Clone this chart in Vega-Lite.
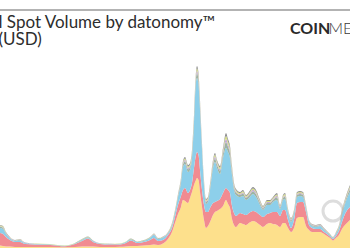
{
  "$schema": "https://vega.github.io/schema/vega-lite/v6.json",
  "width": 350,
  "height": 238,
  "autosize": {"type": "none"},
  "padding": {"top": 10, "bottom": 2, "left": 0, "right": 0},
  "background": "white",
  "config": {
    "view": {"stroke": null},
    "font": "Lato",
    "axisY": {"domain": false, "ticks": false, "labels": false, "title": null, "grid": true, "gridColor": "#eeeeee", "gridWidth": 1}
  },
  "title": {
    "text": ["l Spot Volume by datonomy™", "(USD)"],
    "anchor": "start",
    "frame": "group",
    "orient": "top",
    "offset": -40,
    "dx": -1.5,
    "font": "Lato",
    "fontSize": 17,
    "fontWeight": "normal",
    "color": "#2d2d2d",
    "lineHeight": 17.5
  },
  "datasets": {
    "ranks": [
      {"sector": "Currencies", "rank": 1},
      {"sector": "Platforms", "rank": 2},
      {"sector": "Stablecoins", "rank": 3},
      {"sector": "DeFi", "rank": 4},
      {"sector": "Metaverse", "rank": 5},
      {"sector": "Computing", "rank": 6},
      {"sector": "Other", "rank": 7}
    ],
    "vol": [
      {"x":0,"Currencies":1.91,"Platforms":9.54,"Stablecoins":3.82,"DeFi":0.92,"Metaverse":0.46,"Computing":0.46,"Other":0.46},
      {"x":3,"Currencies":1.53,"Platforms":9.16,"Stablecoins":3.82,"DeFi":0.92,"Metaverse":0.46,"Computing":0.46,"Other":0.46},
      {"x":6,"Currencies":1.15,"Platforms":7.25,"Stablecoins":2.29,"DeFi":0.61,"Metaverse":0.31,"Computing":0.31,"Other":0.31},
      {"x":10,"Currencies":1.15,"Platforms":4.96,"Stablecoins":1.15,"DeFi":0.46,"Metaverse":0.23,"Computing":0.23,"Other":0.23},
      {"x":15,"Currencies":0.76,"Platforms":3.82,"Stablecoins":0.76,"DeFi":0.3,"Metaverse":0.15,"Computing":0.15,"Other":0.15},
      {"x":20,"Currencies":0.76,"Platforms":3.82,"Stablecoins":1.15,"DeFi":0.46,"Metaverse":0.23,"Computing":0.23,"Other":0.23},
      {"x":25,"Currencies":0.76,"Platforms":2.29,"Stablecoins":0.53,"DeFi":0.24,"Metaverse":0.12,"Computing":0.12,"Other":0.12},
      {"x":35,"Currencies":0.76,"Platforms":1.91,"Stablecoins":0.38,"DeFi":0.15,"Metaverse":0.08,"Computing":0.08,"Other":0.08},
      {"x":50,"Currencies":0.76,"Platforms":1.53,"Stablecoins":0.38,"DeFi":0.15,"Metaverse":0.08,"Computing":0.08,"Other":0.08},
      {"x":65,"Currencies":0.53,"Platforms":0.76,"Stablecoins":0.23,"DeFi":0.15,"Metaverse":0.08,"Computing":0.08,"Other":0.08},
      {"x":75,"Currencies":0.76,"Platforms":2.29,"Stablecoins":0.38,"DeFi":0.15,"Metaverse":0.08,"Computing":0.08,"Other":0.08},
      {"x":82,"Currencies":1.15,"Platforms":4.2,"Stablecoins":0.76,"DeFi":0.3,"Metaverse":0.15,"Computing":0.15,"Other":0.15},
      {"x":88,"Currencies":1.15,"Platforms":6.11,"Stablecoins":0.76,"DeFi":0.3,"Metaverse":0.15,"Computing":0.15,"Other":0.15},
      {"x":93,"Currencies":1.15,"Platforms":3.44,"Stablecoins":0.53,"DeFi":0.24,"Metaverse":0.12,"Computing":0.12,"Other":0.12},
      {"x":100,"Currencies":0.76,"Platforms":2.29,"Stablecoins":0.38,"DeFi":0.15,"Metaverse":0.08,"Computing":0.08,"Other":0.08},
      {"x":110,"Currencies":0.76,"Platforms":1.83,"Stablecoins":0.31,"DeFi":0.12,"Metaverse":0.06,"Computing":0.06,"Other":0.06},
      {"x":120,"Currencies":0.92,"Platforms":1.76,"Stablecoins":0.38,"DeFi":0.15,"Metaverse":0.08,"Computing":0.08,"Other":0.08},
      {"x":126,"Currencies":1.15,"Platforms":2.67,"Stablecoins":0.76,"DeFi":0.15,"Metaverse":0.08,"Computing":0.08,"Other":0.08},
      {"x":131,"Currencies":1.53,"Platforms":4.2,"Stablecoins":0.76,"DeFi":0.3,"Metaverse":0.15,"Computing":0.15,"Other":0.15},
      {"x":137,"Currencies":1.53,"Platforms":2.29,"Stablecoins":0.76,"DeFi":0.15,"Metaverse":0.08,"Computing":0.08,"Other":0.08},
      {"x":144,"Currencies":1.91,"Platforms":2.67,"Stablecoins":0.76,"DeFi":0.3,"Metaverse":0.15,"Computing":0.15,"Other":0.15},
      {"x":150,"Currencies":2.29,"Platforms":3.82,"Stablecoins":1.53,"DeFi":0.3,"Metaverse":0.15,"Computing":0.15,"Other":0.15},
      {"x":154,"Currencies":2.67,"Platforms":4.96,"Stablecoins":2.29,"DeFi":0.46,"Metaverse":0.23,"Computing":0.23,"Other":0.23},
      {"x":158,"Currencies":2.29,"Platforms":3.05,"Stablecoins":1.53,"DeFi":0.3,"Metaverse":0.15,"Computing":0.15,"Other":0.15},
      {"x":163,"Currencies":3.44,"Platforms":2.67,"Stablecoins":1.91,"DeFi":0.3,"Metaverse":0.15,"Computing":0.15,"Other":0.15},
      {"x":168,"Currencies":6.87,"Platforms":3.05,"Stablecoins":1.15,"DeFi":0.46,"Metaverse":0.23,"Computing":0.23,"Other":0.23},
      {"x":172,"Currencies":12.21,"Platforms":3.05,"Stablecoins":1.53,"DeFi":0.92,"Metaverse":0.46,"Computing":0.46,"Other":0.46},
      {"x":175,"Currencies":19.09,"Platforms":4.58,"Stablecoins":3.05,"DeFi":0.92,"Metaverse":0.46,"Computing":0.46,"Other":0.46},
      {"x":178,"Currencies":25.96,"Platforms":6.87,"Stablecoins":6.11,"DeFi":0.92,"Metaverse":0.46,"Computing":0.46,"Other":0.46},
      {"x":181,"Currencies":31.3,"Platforms":8.4,"Stablecoins":9.92,"DeFi":1.53,"Metaverse":0.76,"Computing":0.76,"Other":0.76},
      {"x":183,"Currencies":36.64,"Platforms":7.63,"Stablecoins":17.56,"DeFi":1.83,"Metaverse":0.92,"Computing":0.92,"Other":0.92},
      {"x":185,"Currencies":35.88,"Platforms":9.92,"Stablecoins":18.32,"DeFi":2.14,"Metaverse":1.07,"Computing":1.07,"Other":1.07},
      {"x":188,"Currencies":34.35,"Platforms":7.63,"Stablecoins":16.03,"DeFi":2.14,"Metaverse":1.07,"Computing":1.07,"Other":1.07},
      {"x":190,"Currencies":38.17,"Platforms":6.11,"Stablecoins":15.27,"DeFi":2.14,"Metaverse":1.07,"Computing":1.07,"Other":1.07},
      {"x":192,"Currencies":42.75,"Platforms":6.87,"Stablecoins":19.09,"DeFi":2.44,"Metaverse":1.22,"Computing":1.22,"Other":1.22},
      {"x":194,"Currencies":48.09,"Platforms":12.98,"Stablecoins":32.83,"DeFi":3.05,"Metaverse":1.53,"Computing":1.53,"Other":1.53},
      {"x":196,"Currencies":51.91,"Platforms":19.09,"Stablecoins":55.73,"DeFi":3.05,"Metaverse":1.53,"Computing":1.53,"Other":1.53},
      {"x":197,"Currencies":53.44,"Platforms":19.85,"Stablecoins":56.49,"DeFi":3.66,"Metaverse":1.83,"Computing":1.83,"Other":1.83},
      {"x":198.5,"Currencies":51.91,"Platforms":19.09,"Stablecoins":53.44,"DeFi":3.66,"Metaverse":1.83,"Computing":1.83,"Other":1.83},
      {"x":200,"Currencies":42.75,"Platforms":16.79,"Stablecoins":45.8,"DeFi":3.05,"Metaverse":1.53,"Computing":1.53,"Other":1.53},
      {"x":202,"Currencies":31.3,"Platforms":12.98,"Stablecoins":30.54,"DeFi":2.14,"Metaverse":1.07,"Computing":1.07,"Other":1.07},
      {"x":204,"Currencies":21.38,"Platforms":11.45,"Stablecoins":14.5,"DeFi":1.83,"Metaverse":0.92,"Computing":0.92,"Other":0.92},
      {"x":206,"Currencies":15.27,"Platforms":12.21,"Stablecoins":6.11,"DeFi":1.53,"Metaverse":0.76,"Computing":0.76,"Other":0.76},
      {"x":208,"Currencies":16.79,"Platforms":10.69,"Stablecoins":7.63,"DeFi":1.53,"Metaverse":0.76,"Computing":0.76,"Other":0.76},
      {"x":210,"Currencies":19.85,"Platforms":10.69,"Stablecoins":13.74,"DeFi":1.83,"Metaverse":0.92,"Computing":0.92,"Other":0.92},
      {"x":213,"Currencies":25.19,"Platforms":9.16,"Stablecoins":26.72,"DeFi":2.44,"Metaverse":1.22,"Computing":1.22,"Other":1.22},
      {"x":215,"Currencies":27.48,"Platforms":7.63,"Stablecoins":30.54,"DeFi":2.75,"Metaverse":1.37,"Computing":1.37,"Other":1.37},
      {"x":217,"Currencies":28.25,"Platforms":7.63,"Stablecoins":25.19,"DeFi":2.44,"Metaverse":1.22,"Computing":1.22,"Other":1.22},
      {"x":220,"Currencies":29.77,"Platforms":7.63,"Stablecoins":19.09,"DeFi":2.44,"Metaverse":1.22,"Computing":1.22,"Other":1.22},
      {"x":223,"Currencies":32.06,"Platforms":9.92,"Stablecoins":26.72,"DeFi":3.05,"Metaverse":1.53,"Computing":1.53,"Other":1.53},
      {"x":226,"Currencies":36.64,"Platforms":9.16,"Stablecoins":30.54,"DeFi":4.58,"Metaverse":2.29,"Computing":2.29,"Other":2.29},
      {"x":228,"Currencies":33.59,"Platforms":10.69,"Stablecoins":29.01,"DeFi":3.97,"Metaverse":1.98,"Computing":1.98,"Other":1.98},
      {"x":230,"Currencies":30.54,"Platforms":11.45,"Stablecoins":26.72,"DeFi":3.66,"Metaverse":1.83,"Computing":1.83,"Other":1.83},
      {"x":232,"Currencies":22.14,"Platforms":9.92,"Stablecoins":23.67,"DeFi":2.75,"Metaverse":1.37,"Computing":1.37,"Other":1.37},
      {"x":234,"Currencies":17.56,"Platforms":9.16,"Stablecoins":17.56,"DeFi":2.14,"Metaverse":1.07,"Computing":1.07,"Other":1.07},
      {"x":236,"Currencies":16.03,"Platforms":8.4,"Stablecoins":16.03,"DeFi":1.83,"Metaverse":0.92,"Computing":0.92,"Other":0.92},
      {"x":240,"Currencies":19.09,"Platforms":7.63,"Stablecoins":12.21,"DeFi":1.53,"Metaverse":0.76,"Computing":0.76,"Other":0.76},
      {"x":243,"Currencies":18.32,"Platforms":7.63,"Stablecoins":13.74,"DeFi":1.83,"Metaverse":0.92,"Computing":0.92,"Other":0.92},
      {"x":246,"Currencies":17.56,"Platforms":7.63,"Stablecoins":11.45,"DeFi":1.53,"Metaverse":0.76,"Computing":0.76,"Other":0.76},
      {"x":249,"Currencies":19.09,"Platforms":7.63,"Stablecoins":11.45,"DeFi":1.83,"Metaverse":0.92,"Computing":0.92,"Other":0.92},
      {"x":253,"Currencies":20.61,"Platforms":7.63,"Stablecoins":12.98,"DeFi":2.14,"Metaverse":1.07,"Computing":1.07,"Other":1.07},
      {"x":256,"Currencies":19.85,"Platforms":7.63,"Stablecoins":11.45,"DeFi":2.14,"Metaverse":1.07,"Computing":1.07,"Other":1.07},
      {"x":260,"Currencies":17.56,"Platforms":7.63,"Stablecoins":7.63,"DeFi":1.53,"Metaverse":0.76,"Computing":0.76,"Other":0.76},
      {"x":263,"Currencies":16.03,"Platforms":7.63,"Stablecoins":5.34,"DeFi":1.22,"Metaverse":0.61,"Computing":0.61,"Other":0.61},
      {"x":267,"Currencies":18.32,"Platforms":7.63,"Stablecoins":6.87,"DeFi":1.53,"Metaverse":0.76,"Computing":0.76,"Other":0.76},
      {"x":270,"Currencies":19.09,"Platforms":7.63,"Stablecoins":6.11,"DeFi":1.53,"Metaverse":0.76,"Computing":0.76,"Other":0.76},
      {"x":273,"Currencies":18.32,"Platforms":9.16,"Stablecoins":7.63,"DeFi":1.53,"Metaverse":0.76,"Computing":0.76,"Other":0.76},
      {"x":277,"Currencies":17.56,"Platforms":9.92,"Stablecoins":9.16,"DeFi":2.14,"Metaverse":1.07,"Computing":1.07,"Other":1.07},
      {"x":280,"Currencies":16.03,"Platforms":8.4,"Stablecoins":5.34,"DeFi":1.22,"Metaverse":0.61,"Computing":0.61,"Other":0.61},
      {"x":283,"Currencies":19.09,"Platforms":9.92,"Stablecoins":7.63,"DeFi":1.53,"Metaverse":0.76,"Computing":0.76,"Other":0.76},
      {"x":285,"Currencies":19.09,"Platforms":9.92,"Stablecoins":8.4,"DeFi":1.83,"Metaverse":0.92,"Computing":0.92,"Other":0.92},
      {"x":288,"Currencies":15.27,"Platforms":6.11,"Stablecoins":5.34,"DeFi":1.22,"Metaverse":0.61,"Computing":0.61,"Other":0.61},
      {"x":291,"Currencies":12.21,"Platforms":3.05,"Stablecoins":4.58,"DeFi":1.22,"Metaverse":0.61,"Computing":0.61,"Other":0.61},
      {"x":294,"Currencies":15.27,"Platforms":6.11,"Stablecoins":4.58,"DeFi":1.22,"Metaverse":0.61,"Computing":0.61,"Other":0.61},
      {"x":297,"Currencies":22.9,"Platforms":11.45,"Stablecoins":4.58,"DeFi":1.53,"Metaverse":0.76,"Computing":0.76,"Other":0.76},
      {"x":300,"Currencies":23.67,"Platforms":11.45,"Stablecoins":4.58,"DeFi":1.53,"Metaverse":0.76,"Computing":0.76,"Other":0.76},
      {"x":303,"Currencies":23.67,"Platforms":11.45,"Stablecoins":3.82,"DeFi":1.53,"Metaverse":0.76,"Computing":0.76,"Other":0.76},
      {"x":306,"Currencies":16.79,"Platforms":10.69,"Stablecoins":2.29,"DeFi":1.22,"Metaverse":0.61,"Computing":0.61,"Other":0.61},
      {"x":309,"Currencies":13.74,"Platforms":3.82,"Stablecoins":2.29,"DeFi":0.61,"Metaverse":0.31,"Computing":0.31,"Other":0.31},
      {"x":312,"Currencies":12.21,"Platforms":3.05,"Stablecoins":1.53,"DeFi":0.61,"Metaverse":0.31,"Computing":0.31,"Other":0.31},
      {"x":316,"Currencies":12.21,"Platforms":2.29,"Stablecoins":1.53,"DeFi":0.61,"Metaverse":0.31,"Computing":0.31,"Other":0.31},
      {"x":320,"Currencies":12.21,"Platforms":2.29,"Stablecoins":2.29,"DeFi":0.61,"Metaverse":0.31,"Computing":0.31,"Other":0.31},
      {"x":324,"Currencies":10.69,"Platforms":1.53,"Stablecoins":1.53,"DeFi":0.61,"Metaverse":0.31,"Computing":0.31,"Other":0.31},
      {"x":327,"Currencies":9.16,"Platforms":1.53,"Stablecoins":1.15,"DeFi":0.46,"Metaverse":0.23,"Computing":0.23,"Other":0.23},
      {"x":330,"Currencies":7.63,"Platforms":1.15,"Stablecoins":1.15,"DeFi":0.3,"Metaverse":0.15,"Computing":0.15,"Other":0.15},
      {"x":333,"Currencies":5.73,"Platforms":1.15,"Stablecoins":0.76,"DeFi":0.3,"Metaverse":0.15,"Computing":0.15,"Other":0.15},
      {"x":336,"Currencies":7.63,"Platforms":1.53,"Stablecoins":1.53,"DeFi":0.61,"Metaverse":0.31,"Computing":0.31,"Other":0.31},
      {"x":339,"Currencies":9.92,"Platforms":3.05,"Stablecoins":2.29,"DeFi":0.92,"Metaverse":0.46,"Computing":0.46,"Other":0.46},
      {"x":342,"Currencies":14.5,"Platforms":5.34,"Stablecoins":5.34,"DeFi":1.53,"Metaverse":0.76,"Computing":0.76,"Other":0.76},
      {"x":345,"Currencies":17.56,"Platforms":8.4,"Stablecoins":7.63,"DeFi":1.53,"Metaverse":0.76,"Computing":0.76,"Other":0.76},
      {"x":348,"Currencies":19.85,"Platforms":9.92,"Stablecoins":9.92,"DeFi":1.83,"Metaverse":0.92,"Computing":0.92,"Other":0.92},
      {"x":350,"Currencies":21.38,"Platforms":9.92,"Stablecoins":11.45,"DeFi":2.14,"Metaverse":1.07,"Computing":1.07,"Other":1.07}
    ]
  },
  "layer": [
    {
      "data": {"values": [{"label": "watermark"}]},
      "mark": {"type": "point", "shape": "circle", "filled": false, "stroke": "#dddddd", "strokeWidth": 3, "size": 400, "opacity": 1},
      "encoding": {
        "x": {"datum": 333, "type": "quantitative", "axis": null},
        "y": {"datum": 28.2, "type": "quantitative", "axis": null}
      }
    },
    {
      "data": {"name": "vol"},
      "transform": [
        {"fold": ["Currencies", "Platforms", "Stablecoins", "DeFi", "Metaverse", "Computing", "Other"], "as": ["sector", "volume"]},
        {"lookup": "sector", "from": {"data": {"name": "ranks"}, "key": "sector", "fields": ["rank"]}}
      ],
      "mark": {"type": "area", "interpolate": "monotone"},
      "encoding": {
        "x": {"field": "x", "type": "quantitative", "scale": {"domain": [0, 350], "nice": false, "zero": false}, "axis": null},
        "y": {"field": "volume", "type": "quantitative", "stack": "zero", "scale": {"domain": [0, 181.7], "nice": false}, "axis": {"values": [20, 40, 60, 80, 100, 120]}},
        "color": {
          "field": "sector",
          "type": "nominal",
          "scale": {
            "domain": ["Currencies", "Platforms", "Stablecoins", "DeFi", "Metaverse", "Computing", "Other"],
            "range": ["#fde08c", "#f18b91", "#8dcfea", "#9db5a3", "#c6a8d8", "#d8e27c", "#8f8f8f"]
          },
          "legend": null
        },
        "order": {"field": "rank", "type": "quantitative"}
      }
    },
    {
      "data": {"values": [{"label": "top"}]},
      "mark": {"type": "rule", "color": "#9a9a9a", "strokeWidth": 1.5},
      "encoding": {"y": {"datum": 181.7, "type": "quantitative", "axis": null}}
    },
    {
      "data": {"values": [{"label": "COIN"}]},
      "mark": {"type": "text", "font": "Lato", "fontWeight": "bold", "fontSize": 16, "align": "left", "baseline": "alphabetic", "color": "#2a2a2a"},
      "encoding": {
        "text": {"field": "label"},
        "x": {"datum": 290, "type": "quantitative", "axis": null},
        "y": {"datum": 163.4, "type": "quantitative", "axis": null}
      }
    },
    {
      "data": {"values": [{"label": "METRICS"}]},
      "mark": {"type": "text", "font": "Lato", "fontWeight": 300, "fontSize": 16, "align": "left", "baseline": "alphabetic", "color": "#3a3a3a"},
      "encoding": {
        "text": {"field": "label"},
        "x": {"datum": 328.5, "type": "quantitative", "axis": null},
        "y": {"datum": 163.4, "type": "quantitative", "axis": null}
      }
    }
  ]
}
